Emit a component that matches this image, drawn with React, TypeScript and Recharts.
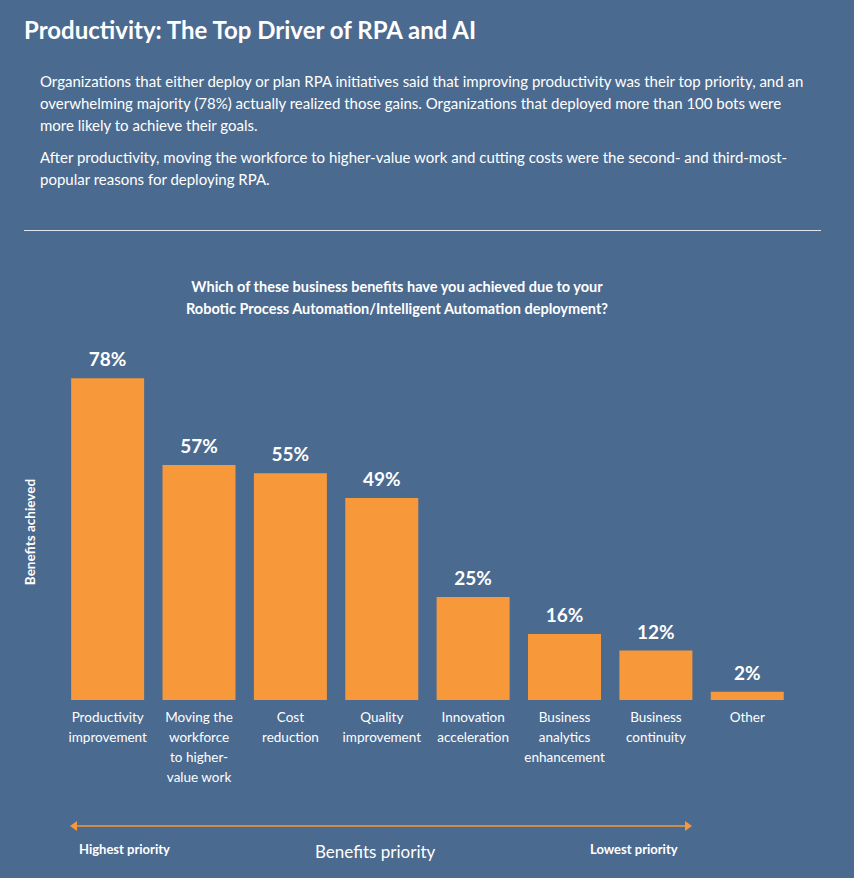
import { BarChart, Bar, XAxis, YAxis, LabelList } from 'recharts';

const categories = [
  'Productivity|improvement',
  'Moving the|workforce|to higher-|value work',
  'Cost|reduction',
  'Quality|improvement',
  'Innovation|acceleration',
  'Business|analytics|enhancement',
  'Business|continuity',
  'Other',
];
const achieved = [78, 57, 55, 49, 25, 16, 12, 2];

const data = categories.map((name, i) => ({ name, value: achieved[i] }));

const BG = '#4b6a8f';
const ORANGE = '#f7993a';
const FONT = 'Lato, "Open Sans", sans-serif';

const Tick = ({ x, y, payload }: any) => {
  const lines = String(payload.value).split('|');
  return (
    <text x={x} y={y + 14} textAnchor="middle" fill="#fff" fontSize={13.5} fontFamily={FONT}>
      {lines.map((l: string, i: number) => (
        <tspan key={i} x={x} dy={i === 0 ? 0 : 20}>{l}</tspan>
      ))}
    </text>
  );
};

const App = () => {
  return (
    <div style={{ position: 'absolute', left: 0, top: 0, width: 854, height: 878, background: BG, fontFamily: FONT, color: '#fff', overflow: 'hidden' }}>
      <div style={{ position: 'absolute', left: 24, top: 15, fontSize: 24, fontWeight: 700 }}>
        Productivity: The Top Driver of RPA and AI
      </div>
      <div style={{ position: 'absolute', left: 40, top: 70, width: 775, fontSize: 15, lineHeight: '22px' }}>
        <p style={{ margin: 0 }}>
          Organizations that either deploy or plan RPA initiatives said that improving productivity was their top priority, and an overwhelming majority (78%) actually realized those gains. Organizations that deployed more than 100 bots were more likely to achieve their goals.
        </p>
        <p style={{ margin: '10px 0 0' }}>
          After productivity, moving the workforce to higher-value work and cutting costs were the second- and third-most-popular reasons for deploying RPA.
        </p>
      </div>
      <div style={{ position: 'absolute', left: 24, top: 230, width: 797, height: 1, background: '#dfe6ee' }} />
      <div style={{ position: 'absolute', left: 0, top: 276, width: 794, textAlign: 'center', fontSize: 14.5, fontWeight: 700, lineHeight: '22px' }}>
        Which of these business benefits have you achieved due to your<br />
        Robotic Process Automation/Intelligent Automation deployment?
      </div>
      <div style={{ position: 'absolute', left: 30, top: 532, transform: 'translate(-50%,-50%) rotate(-90deg)', fontSize: 13.5, fontWeight: 700, whiteSpace: 'nowrap' }}>
        Benefits achieved
      </div>
      <div style={{ position: 'absolute', left: 0, top: 0 }}>
        <BarChart width={854} height={878} data={data} margin={{ top: 370, bottom: 78, left: 62, right: 61 }} barCategoryGap="10%">
          <XAxis dataKey="name" axisLine={false} tickLine={false} tick={<Tick />} interval={0} height={100} />
          <YAxis hide domain={[0, 80]} width={0} />
          <Bar dataKey="value" fill={ORANGE} isAnimationActive={false}>
            <LabelList dataKey="value" position="top" offset={12} formatter={(v: any) => `${v}%`} fill="#fff" fontSize={19} fontWeight={700} fontFamily={FONT} />
          </Bar>
        </BarChart>
      </div>
      <svg style={{ position: 'absolute', left: 0, top: 0 }} width={854} height={878}>
        <line x1={74} y1={826} x2={688} y2={826} stroke={ORANGE} strokeWidth={1.5} />
        <polygon points="70,826 77,821 77,831" fill={ORANGE} />
        <polygon points="692,826 685,821 685,831" fill={ORANGE} />
      </svg>
      <div style={{ position: 'absolute', left: 79, top: 841, fontSize: 13, fontWeight: 700 }}>Highest priority</div>
      <div style={{ position: 'absolute', left: 590, top: 841, fontSize: 13, fontWeight: 700 }}>Lowest priority</div>
      <div style={{ position: 'absolute', left: 315, top: 841, fontSize: 17 }}>Benefits priority</div>
    </div>
  );
};

export default App;
